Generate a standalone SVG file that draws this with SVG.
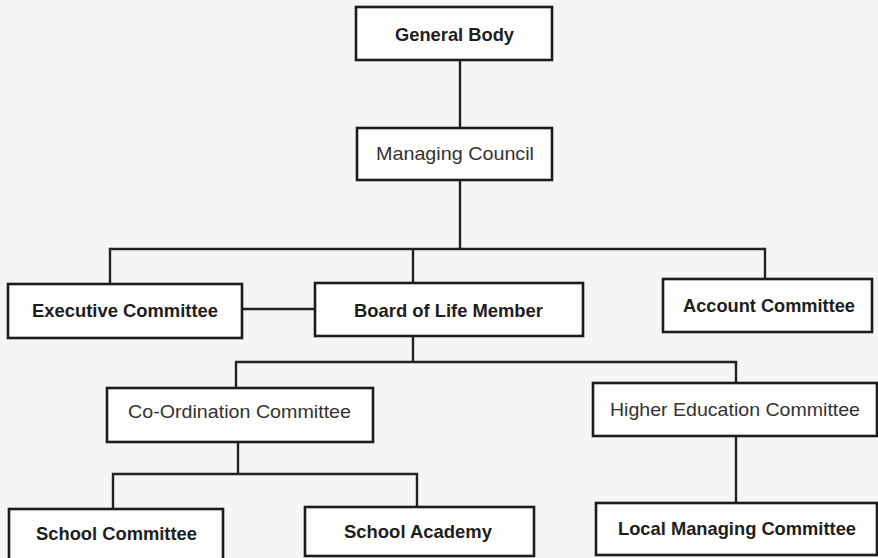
<svg xmlns="http://www.w3.org/2000/svg" width="878" height="558" viewBox="0 0 878 558">
<style>
.bg{fill:#f5f5f3}
.box{fill:#fdfdfc;stroke:#1c1c1c;stroke-width:2.6}
.ln{fill:none;stroke:#222;stroke-width:2.4}
.t{font-family:"Liberation Sans",Arial,sans-serif;font-size:19px;fill:#1e1e1e;font-weight:bold}
.n{font-weight:normal;fill:#333}
</style>
<rect class="bg" x="0" y="0" width="878" height="558"/>
<g id="connectors">
<path class="ln" d="M460 60 V128"/>
<path class="ln" d="M460 180 V248"/>
<path class="ln" d="M110 284 V249 H765 V279"/>
<path class="ln" d="M413 248 V283"/>
<path class="ln" d="M242 309 H316"/>
<path class="ln" d="M413 336 V362"/>
<path class="ln" d="M236 388 V362 H736 V383"/>
<path class="ln" d="M238 442 V474"/>
<path class="ln" d="M113 509 V474 H417 V507"/>
<path class="ln" d="M736 436 V503"/>
</g>
<g id="general-body">
<rect class="box" x="356" y="7" width="196" height="53"/>
<text class="t" x="395" y="41" textLength="119" lengthAdjust="spacingAndGlyphs">General Body</text>
</g>
<g id="managing-council">
<rect class="box" x="357" y="128" width="195" height="52"/>
<text class="t n" x="376" y="160" textLength="158" lengthAdjust="spacingAndGlyphs">Managing Council</text>
</g>
<g id="executive-committee">
<rect class="box" x="8" y="284" width="234" height="54"/>
<text class="t" x="32" y="317" textLength="186" lengthAdjust="spacingAndGlyphs">Executive Committee</text>
</g>
<g id="board-of-life-member">
<rect class="box" x="315" y="283" width="268" height="53"/>
<text class="t" x="354" y="317" textLength="189" lengthAdjust="spacingAndGlyphs">Board of Life Member</text>
</g>
<g id="account-committee">
<rect class="box" x="663" y="279" width="209" height="53"/>
<text class="t" x="683" y="312" textLength="172" lengthAdjust="spacingAndGlyphs">Account Committee</text>
</g>
<g id="co-ordination-committee">
<rect class="box" x="107" y="388" width="266" height="54"/>
<text class="t n" x="128" y="418" textLength="223" lengthAdjust="spacingAndGlyphs">Co-Ordination Committee</text>
</g>
<g id="higher-education-committee">
<rect class="box" x="593" y="383" width="284" height="53"/>
<text class="t n" x="610" y="416" textLength="250" lengthAdjust="spacingAndGlyphs">Higher Education Committee</text>
</g>
<g id="school-committee">
<rect class="box" x="9" y="509" width="214" height="54"/>
<text class="t" x="36" y="540" textLength="161" lengthAdjust="spacingAndGlyphs">School Committee</text>
</g>
<g id="school-academy">
<rect class="box" x="305" y="507" width="229" height="49"/>
<text class="t" x="344" y="538" textLength="148" lengthAdjust="spacingAndGlyphs">School Academy</text>
</g>
<g id="local-managing-committee">
<rect class="box" x="596" y="503" width="281" height="52"/>
<text class="t" x="618" y="535" textLength="238" lengthAdjust="spacingAndGlyphs">Local Managing Committee</text>
</g>
</svg>
